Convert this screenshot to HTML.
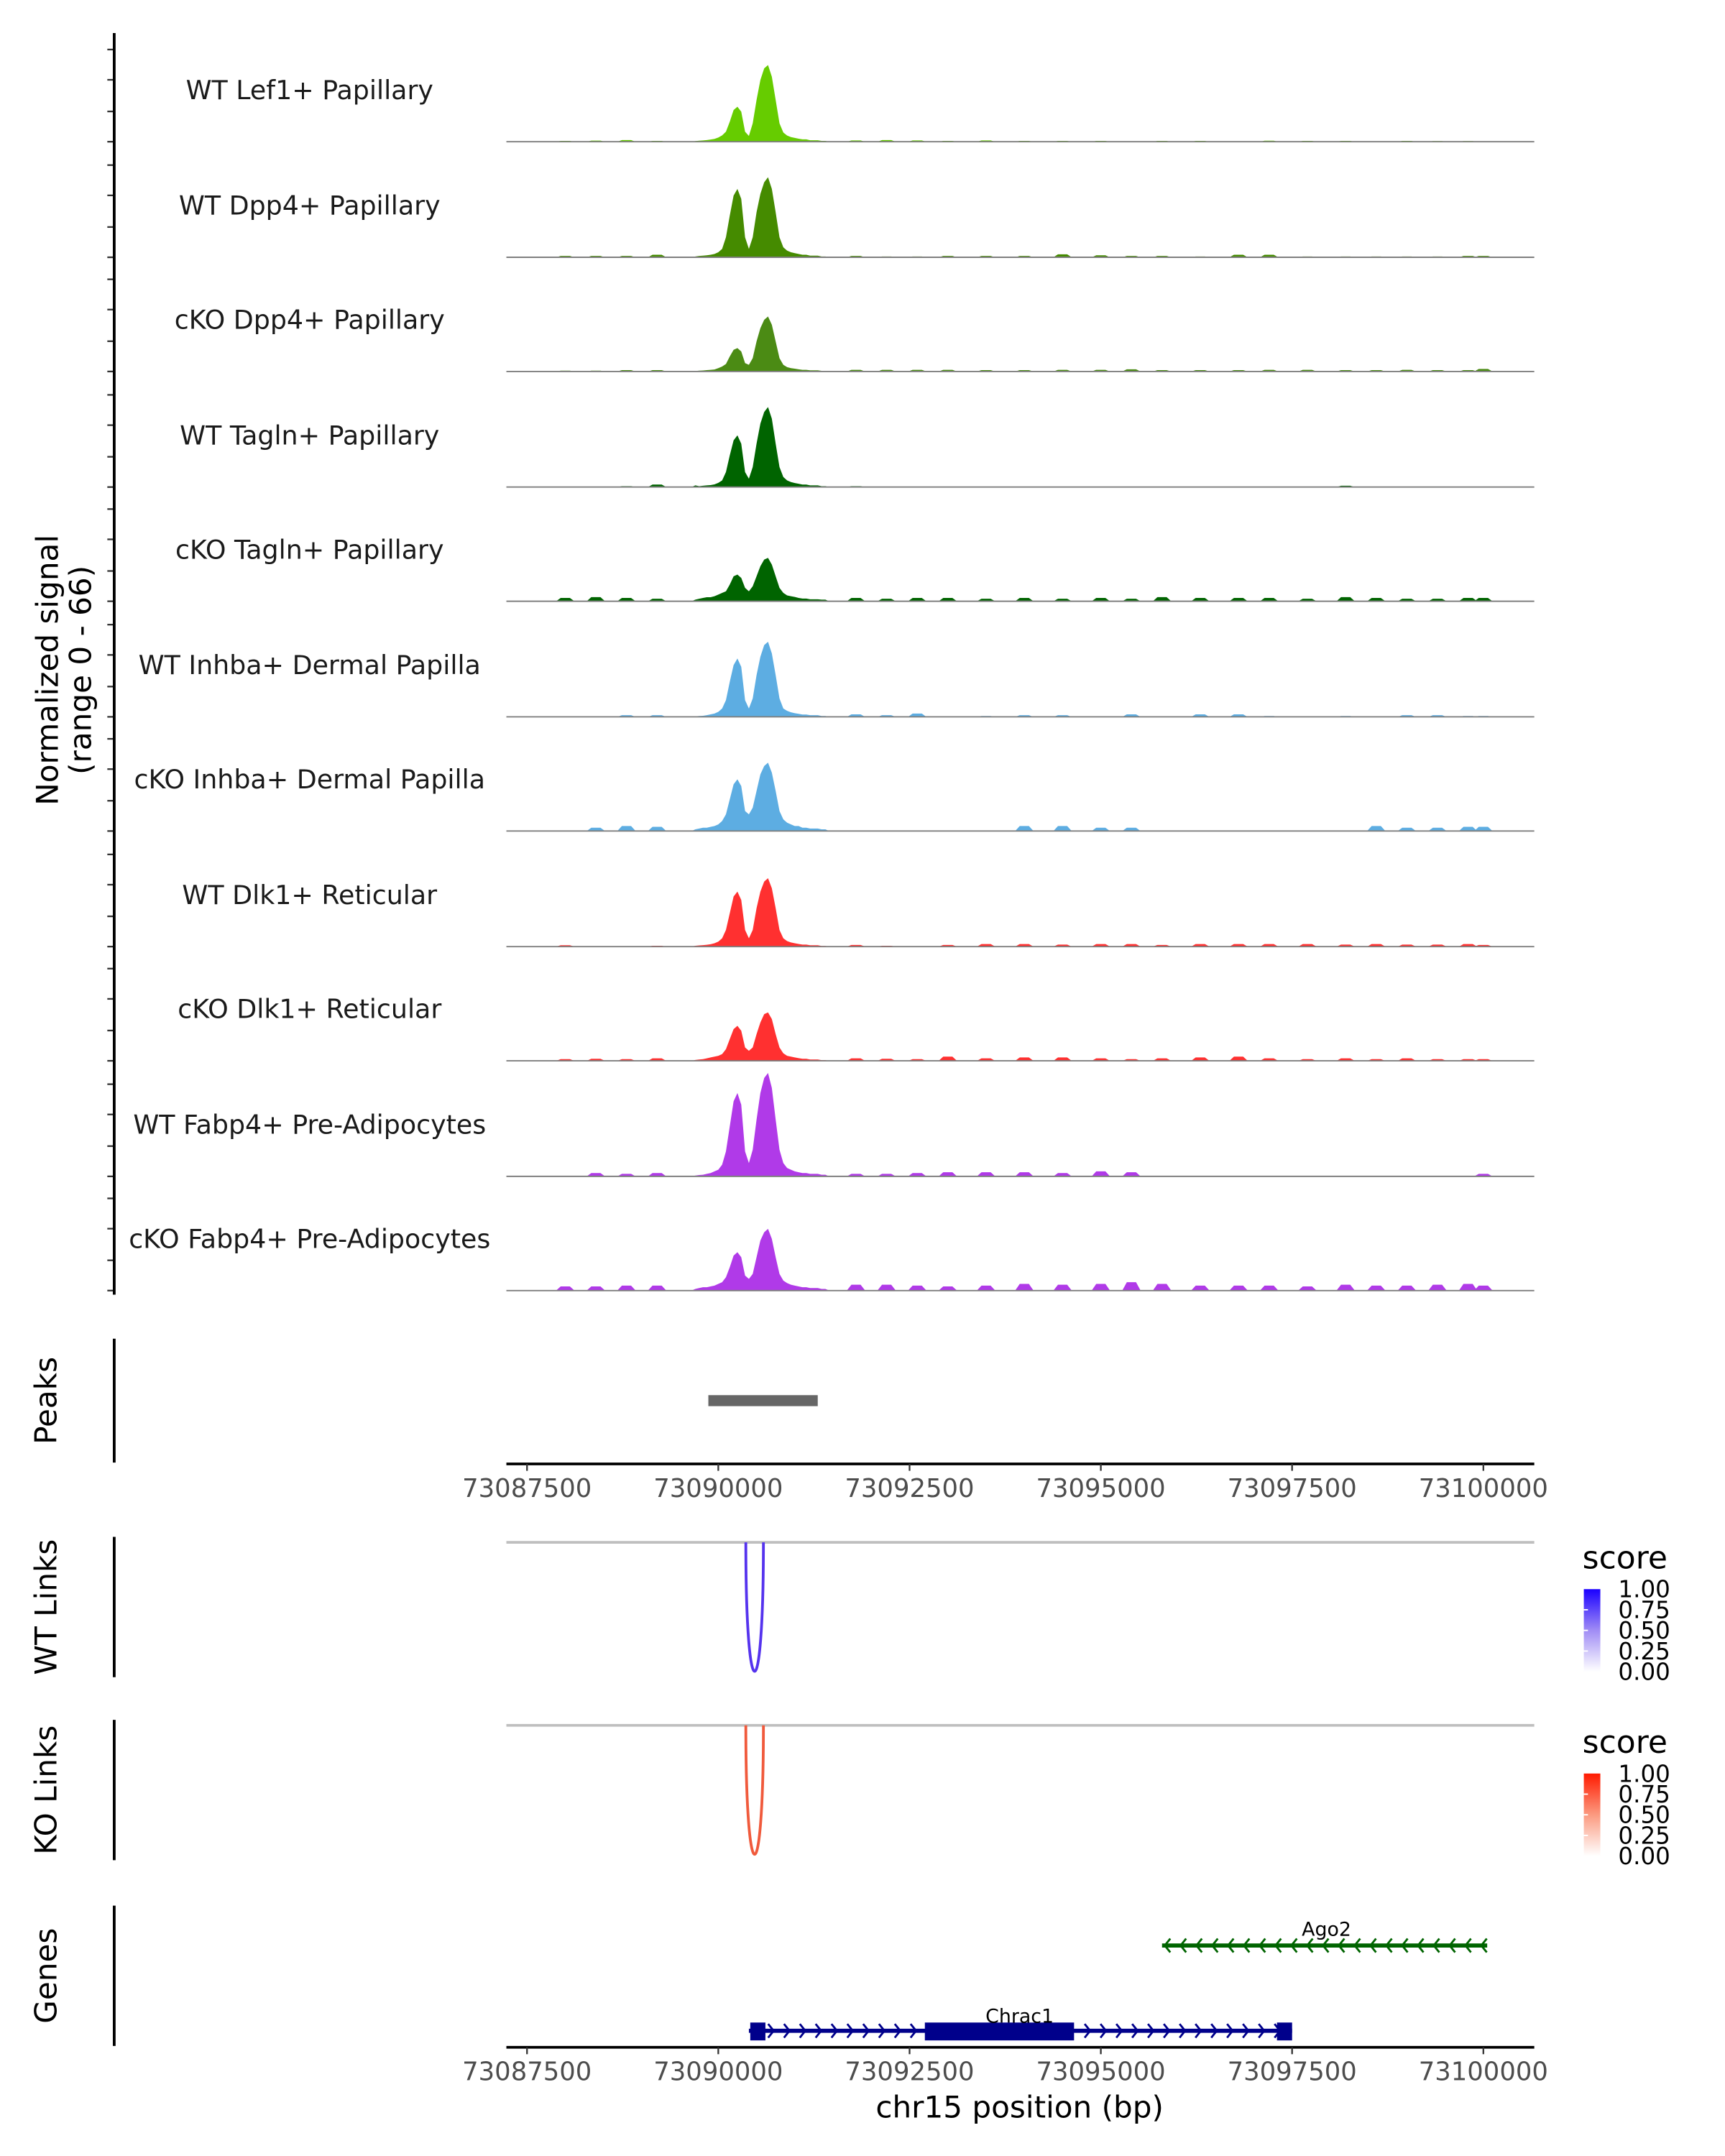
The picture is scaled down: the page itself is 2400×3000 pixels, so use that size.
<!DOCTYPE html>
<html><head><meta charset="utf-8"><style>
html,body{margin:0;padding:0;background:#fff}
svg{display:block}
text{font-family:"DejaVu Sans","Liberation Sans",sans-serif}
</style></head><body>
<svg id="chart" xmlns="http://www.w3.org/2000/svg" width="2400" height="3000" viewBox="0 0 1253.6 1567" preserveAspectRatio="none">
<rect width="1260" height="1570" fill="#fff"/>
<g id="tracks"></g>
<g id="frame"></g>
</svg>
<script>
const trackNames = ["WT Lef1+ Papillary","WT Dpp4+ Papillary","cKO Dpp4+ Papillary","WT Tagln+ Papillary","cKO Tagln+ Papillary","WT Inhba+ Dermal Papilla","cKO Inhba+ Dermal Papilla","WT Dlk1+ Reticular","cKO Dlk1+ Reticular","WT Fabp4+ Pre-Adipocytes","cKO Fabp4+ Pre-Adipocytes"];
const trackColors = ["#66cc00","#458b00","#4b8b14","#006400","#006400","#5dade2","#5dade2","#ff3030","#ff3030","#b03ae8","#b03ae8"];
const binStart = 73089700;
const binStep = 50;
const sig1 = [0.4,0.6,0.8,1,1.3,1.7,2.5,3.8,6,12,19,21,18,6,3.5,11,25,37,44,46,39,25,11,5.5,3.7,2.8,2.3,1.8,1.4,1.4,0.9,0.9,0.9,0.5,0.5];
const sig2 = [0.5,0.8,1,1.2,1.5,2,3,5,12,25,37,41,35,12,5,12,27,38,45,48,41,27,12,6,4,3,2.5,2,1.5,1.5,1,1,1,0.5,0.5];
const sig3 = [0.3,0.5,0.6,0.8,1,1.2,2,3,4.5,9,13,14,12,5,4,8,18,26,31,33,28,18,8,4,2.6,2,1.7,1.3,1,1,0.7,0.7,0.7,0.4,0.4];
const sig4 = [1,0.5,0.8,1,1.2,1.6,2.5,4,9,19,28,31,26,9,5,12,26,38,45,48,41,26,12,6,4,3,2.4,2,1.5,1.5,1,1,1,0.5,0.5];
const sig5 = [1,1.5,2,2.4,2.4,3,4,5,6,10,15,16,14,8,6,9,15,21,25,26,22,15,8,5,3.5,3,2.6,2,1.6,1.6,1.2,1.2,1.2,1,1];
const sig6 = [0.3,0.5,0.6,1,1.5,2,3,5,10,21,31,35,30,10,5,11,25,36,43,45,38,25,11,5,3.6,2.7,2.2,1.8,1.4,1.4,1,1,1,0.5,0.5];
const sig7 = [1,1.5,2,2,2.5,3,4,6,10,19,28,31,27,12,10,14,24,34,39,41,35,24,12,7,5,4,3,3,2,2,1.5,1.5,1.5,1,1];
const sig8 = [0.5,0.7,0.9,1.1,1.4,2,3,5,10,20,30,33,28,10,5,10,23,33,39,41,35,23,10,5,3.3,2.5,2,1.6,1.2,1.2,0.8,0.8,0.8,0.4,0.4];
const sig9 = [0.5,0.8,1,1.5,2,2.5,3,4,7,13,19,21,18,8,6,8,16,23,28,29,25,16,8,4.5,3,2.5,2,1.6,1.2,1.2,0.8,0.8,0.8,0.4,0.4];
const sig10 = [0.5,0.8,1,1.5,2,3,4,7,15,30,45,50,43,15,8,16,34,50,59,62,53,34,16,8,5,4,3,2.5,2,2,1.5,1.5,1.5,1,1];
const sig11 = [1,1.5,2,2,2.5,3,4,5,8,14,21,23,20,9,7,10,20,30,35,37,31,20,10,6,4.5,3.5,3,2.5,2,2,1.5,1.5,1.5,1,1];
const noisePos = [73088000,73088400,73088800,73089200,73091800,73092200,73092600,73093000,73093500,73094000,73094500,73095000,73095400,73095800,73096300,73096800,73097200,73097700,73098200,73098600,73099000,73099400,73099800,73100000];
const noise1 = [0.5,0.7,1,0.5,0.8,1,0.8,0.5,0.8,0.5,0.5,0.5,0.3,0.5,0.5,0.3,0.6,0.5,0.5,0.3,0.5,0.4,0.4,0.3];
const noise2 = [0.8,0.8,0.8,1.5,0.8,0.5,0.5,0.8,0.8,0.8,1.8,1.2,0.8,0.8,0.5,1.5,1.5,0.5,0.5,0.5,0.5,0.5,0.8,0.8];
const noise3 = [0.5,0.5,0.8,0.8,1,1,1,1,0.8,0.8,1,1,1.3,0.8,0.8,0.8,1,1,0.8,0.8,1,0.8,0.8,1.5];
const noise4 = [0,0,0.5,1.5,0.5,0,0,0,0,0,0,0,0,0,0,0,0,0,0.8,0,0,0,0,0];
const noise5 = [2,2.5,2,1.5,2,1.5,2,2,1.5,2,1.5,2,1.5,2.5,2,2,2,1.5,2.5,2,1.5,1.5,2,2];
const noise6 = [0,0,1,1,1.5,1,2,0,0.5,1,1,0,1.5,0,1.5,1.5,0.5,0,0.5,0,1,1,0.5,0.5];
const noise7 = [0,2,3,2.5,0,0,0,0,0,3,3,2,2,0,0,0,0,0,0,3,2,2,2.5,2.5];
const noise8 = [0.8,0,0,0.5,1,0.5,0,1,1.5,1.5,1.2,1.5,1.5,1,1.5,1.5,1.5,1.5,1.2,1.5,1.2,1.2,1.5,1];
const noise9 = [1,1.2,1,1.5,1.5,1.2,1,2.5,1.5,2,2,1.5,1,1.5,2,2.5,1.5,1,1.5,1,1.5,1,1,1];
const noise10 = [0,2,1.5,2,1.5,1.5,2,2.5,2.5,2.5,2,3,2.5,0,0,0,0,0,0,0,0,0,0,1.5];
const noise11 = [2.5,2.5,3,3,3.5,3.5,3,2.5,3,4,3.5,4,5,4,3,3,3,2.5,3.5,3,3,3.5,4,3];
const signals = [sig1,sig2,sig3,sig4,sig5,sig6,sig7,sig8,sig9,sig10,sig11];
const noises = [noise1,noise2,noise3,noise4,noise5,noise6,noise7,noise8,noise9,noise10,noise11];
const xTicks = [73087500,73090000,73092500,73095000,73097500,73100000];
const peakStart = 73089870, peakEnd = 73091300;
const linkStart = 73090360, linkEnd = 73090590;
const geneAgo2 = [73095800, 73100050];
const geneChrac1 = [73090400, 73097500];
const chrac1Cds = [73092700, 73094650];
const legendLabels = ["1.00","0.75","0.50","0.25","0.00"];

const NS="http://www.w3.org/2000/svg";
const svg=document.getElementById('chart');
const tracksG=document.getElementById('tracks');
const frame=document.getElementById('frame');
function xs(bp){return 383+(bp-73087500)*(695/12500);}
function ys(v,base){return base-v*(80/66);}
function mk(tag,attrs,parent){const e=document.createElementNS(NS,tag);for(const k in attrs)e.setAttribute(k,attrs[k]);(parent||svg).appendChild(e);return e;}
const baselines=[103,187,270,354,437,521,604,688,771,855,938];

for(let t=0;t<11;t++){
  const base=baselines[t];
  const g=mk('g',{},tracksG);
  
  
  const lab=mk('text',{x:225,y:base-31,'font-size':19,'text-anchor':'middle',fill:'#1a1a1a'},g);
  lab.textContent=trackNames[t];
  
  
  const s=signals[t];
  let d='M'+xs(binStart-binStep).toFixed(2)+','+base;
  for(let i=0;i<s.length;i++){d+=' L'+xs(binStart+i*binStep).toFixed(2)+','+ys(s[i],base).toFixed(2);}
  d+=' L'+xs(binStart+s.length*binStep).toFixed(2)+','+base+' Z';
  const a=mk('path',{d:d,fill:trackColors[t]},g);
  
  
  const n=noises[t];
  for(let i=0;i<noisePos.length;i++){
    if(n[i]<=0)continue;
    const p=mk('path',{d:'M'+xs(noisePos[i]-120).toFixed(2)+','+base+' L'+xs(noisePos[i]-60).toFixed(2)+','+ys(n[i],base).toFixed(2)+' L'+xs(noisePos[i]+60).toFixed(2)+','+ys(n[i],base).toFixed(2)+' L'+xs(noisePos[i]+120).toFixed(2)+','+base+' Z',fill:trackColors[t]},g);
    
    
  }
  const bl=mk('line',{x1:368,x2:1115,y1:base,y2:base,stroke:'#7f7f7f','stroke-width':1},g);
  
  
  for(const off of [0,22,45,67]){
    const tk=mk('line',{x1:78,x2:83,y1:base-off,y2:base-off,stroke:'#333','stroke-width':1.2},frame);
    
    
  }
}
function vline(x,y1,y2,name){const l=mk('line',{x1:x,x2:x,y1:y1,y2:y2,stroke:'#000','stroke-width':2},frame);}
vline(83,24,941,'y-axis-line');
function rotText(x,y,str,size,name){const e=mk('text',{x:x,y:y,'font-size':size,'text-anchor':'middle',transform:'rotate(-90 '+x+' '+y+')',fill:'#000'},frame);e.textContent=str;return e;}
rotText(42,487,'Normalized signal',22,'y-axis-title');
rotText(66,487,'(range 0 - 66)',22,'y-axis-subtitle');
vline(83,973,1063,'peaks-axis-line');
rotText(41,1018,'Peaks',22,'peaks-title');
const pk=mk('rect',{x:xs(peakStart),y:1014,width:xs(peakEnd)-xs(peakStart),height:8,fill:'#666'},frame);

function xAxis(y,name){
  const l=mk('line',{x1:368,x2:1115,y1:y,y2:y,stroke:'#000','stroke-width':2},frame);
  
  for(const v of xTicks){
    const tk=mk('line',{x1:xs(v),x2:xs(v),y1:y,y2:y+5,stroke:'#333','stroke-width':1.2},frame);
    
    const tl=mk('text',{x:xs(v),y:y+24,'font-size':18.5,'text-anchor':'middle',fill:'#4d4d4d'},frame);
    tl.textContent=String(v);
    
  }
}
xAxis(1064,'peaks-x-axis');
function linksTrack(top,label,color,c2,legTop,nm){
  vline(83,top-4,top+98,nm+'-axis-line');
  rotText(41,top+47,label,22,nm+'-title');
  const gl=mk('line',{x1:368,x2:1115,y1:top,y2:top,stroke:'#bfbfbf','stroke-width':2},frame);
  
  const x1=xs(linkStart),x2=xs(linkEnd);
  const arc=mk('path',{d:'M'+x1+','+top+' C'+x1+','+(top+125)+' '+x2+','+(top+125)+' '+x2+','+top,fill:'none',stroke:color,'stroke-width':2},frame);
  
  const st=mk('text',{x:1150,y:legTop-15,'font-size':23,fill:'#000'},frame);st.textContent='score';
  
  const gid='grad'+nm;
  const defs=mk('defs',{},frame);
  const lg=mk('linearGradient',{id:gid,x1:0,y1:1,x2:0,y2:0},defs);
  mk('stop',{offset:'0','stop-color':'#ffffff'},lg);
  mk('stop',{offset:'0.5','stop-color':c2},lg);
  mk('stop',{offset:'1','stop-color':color==='#5533ee'?'#1a00ff':'#ff1a00'},lg);
  const cb=mk('rect',{x:1151,y:legTop,width:12,height:60,fill:'url(#'+gid+')'},frame);
  
  for(let i=0;i<legendLabels.length;i++){
    const lt=mk('text',{x:1176,y:legTop+6+i*15,'font-size':17,fill:'#000'},frame);
    lt.textContent=legendLabels[i];
    
    if(i>0&&i<4){mk('line',{x1:1151,x2:1154,y1:legTop+i*15,y2:legTop+i*15,stroke:'#fff'},frame);}
  }
}
linksTrack(1121,'WT Links','#5533ee','#a08cf5',1155,'wt-links');
linksTrack(1254,'KO Links','#f05a3c','#fb9a80',1289,'ko-links');
vline(83,1385,1487,'genes-axis-line');
rotText(41,1436,'Genes',22,'genes-title');
const ago=mk('line',{x1:xs(geneAgo2[0]),x2:xs(geneAgo2[1]),y1:1414,y2:1414,stroke:'#006400','stroke-width':3},frame);

for(let x=xs(geneAgo2[0])+2;x<xs(geneAgo2[1]);x+=11.5){mk('path',{d:'M'+(x+4)+',1409 L'+x+',1414 L'+(x+4)+',1419',fill:'none',stroke:'#006400','stroke-width':1.5},frame);}
const at=mk('text',{x:964,y:1407,'font-size':14,'text-anchor':'middle',fill:'#000'},frame);at.textContent='Ago2';

const ch=mk('line',{x1:xs(geneChrac1[0]),x2:xs(geneChrac1[1]),y1:1476,y2:1476,stroke:'#00008b','stroke-width':3},frame);

for(let x=xs(geneChrac1[0])+14;x<xs(geneChrac1[1])-8;x+=11.5){if(x>xs(chrac1Cds[0])-3&&x<xs(chrac1Cds[1])+3)continue;mk('path',{d:'M'+x+',1471 L'+(x+4)+',1476 L'+x+',1481',fill:'none',stroke:'#00008b','stroke-width':1.5},frame);}
const cds=mk('rect',{x:xs(chrac1Cds[0]),y:1470,width:xs(chrac1Cds[1])-xs(chrac1Cds[0]),height:13,fill:'#00008b'},frame);

mk('rect',{x:xs(geneChrac1[0])+1,y:1470,width:11,height:13,fill:'#00008b'},frame);
mk('rect',{x:xs(geneChrac1[1])-11,y:1470,width:11,height:13,fill:'#00008b'},frame);
const ct=mk('text',{x:741,y:1470,'font-size':14,'text-anchor':'middle',fill:'#000'},frame);ct.textContent='Chrac1';

xAxis(1488,'genes-x-axis');
const xt=mk('text',{x:741,y:1539,'font-size':22,'text-anchor':'middle',fill:'#000'},frame);xt.textContent='chr15 position (bp)';

</script>
</body></html>
